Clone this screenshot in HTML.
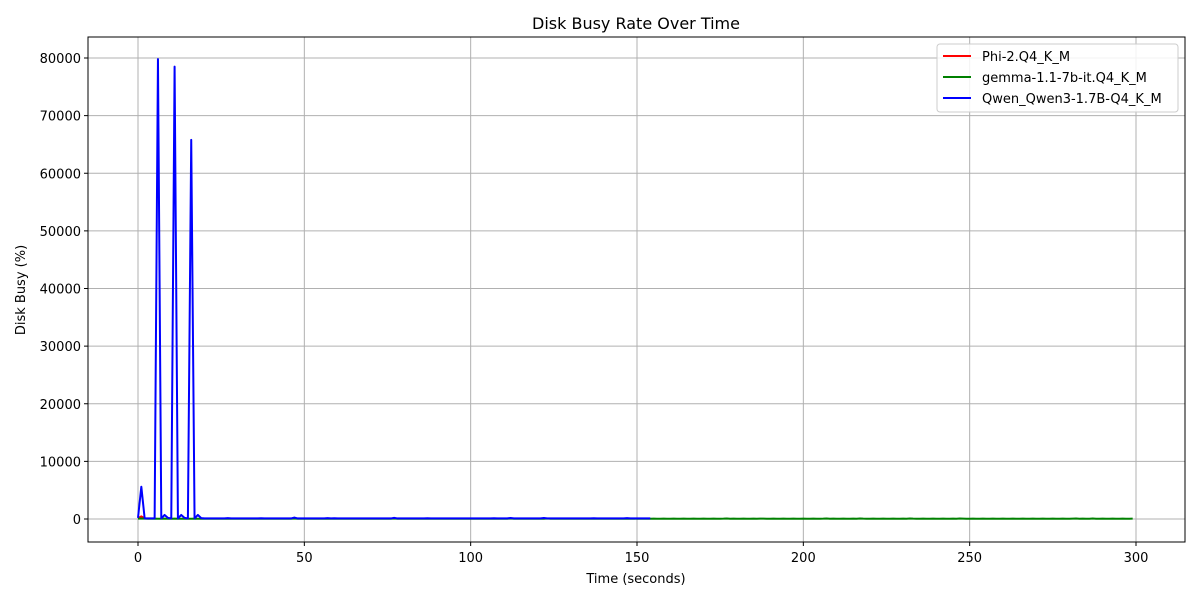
<!DOCTYPE html>
<html><head><meta charset="utf-8"><style>
body{margin:0;background:#fff;font-family:"Liberation Sans","DejaVu Sans",sans-serif;}
svg text{font-family:"DejaVu Sans","Liberation Sans",sans-serif;}
</style></head><body>
<svg id="chart" width="1200" height="600" xmlns="http://www.w3.org/2000/svg">
<rect width="1200" height="600" fill="#fff"/>
<text x="636" y="29" font-size="16" text-anchor="middle">Disk Busy Rate Over Time</text>
<g id="grid"></g>
<g id="series"></g>
<rect x="88" y="37" width="1097" height="505" fill="none" stroke="#000" stroke-width="1"/>
<g id="ticks"></g>
<text x="636" y="583" font-size="13" text-anchor="middle">Time (seconds)</text>
<text transform="translate(25,290) rotate(-90)" font-size="13" text-anchor="middle">Disk Busy (%)</text>
<g>
<rect x="937" y="44" width="241" height="68" fill="#fff" fill-opacity="0.85" stroke="#ccc" rx="3"/>
<line x1="943" y1="56" x2="971" y2="56" stroke="red" stroke-width="2"/>
<text x="982" y="61" font-size="13">Phi-2.Q4_K_M</text>
<line x1="943" y1="77" x2="971" y2="77" stroke="green" stroke-width="2"/>
<text x="982" y="82" font-size="13">gemma-1.1-7b-it.Q4_K_M</text>
<line x1="943" y1="98" x2="971" y2="98" stroke="blue" stroke-width="2"/>
<text x="982" y="103" font-size="13">Qwen_Qwen3-1.7B-Q4_K_M</text>
</g>
</svg>
<script>
const xTicks=[0,50,100,150,200,250,300];
const yTicks=[0,10000,20000,30000,40000,50000,60000,70000,80000];
const redValues=[150,450,120];
const greenValues=[60,80,60,50,50,60,50,50,60,50,50,70,50,50,60,50,50,60,50,50,60,50,50,50,60,50,50,60,50,50,
60,50,50,60,50,50,60,50,50,60,50,50,60,50,50,60,50,80,50,50,60,50,50,60,50,50,60,50,50,60,
50,50,60,50,50,60,50,50,60,50,50,60,50,50,60,50,50,90,50,50,60,50,50,60,50,50,60,50,50,60,
50,50,60,50,50,60,50,50,60,50,50,60,50,50,60,50,50,60,50,50,60,50,80,50,50,60,50,50,60,50,
50,60,50,80,50,60,50,50,60,50,50,60,50,50,60,50,50,60,50,50,60,50,50,60,50,50,60,50,50,60,
50,50,60,50,50,60,50,50,60,50,50,60,50,50,60,50,50,60,50,50,60,50,50,60,50,50,60,90,50,60,
50,50,60,50,50,60,50,70,60,50,50,60,50,50,60,50,50,60,50,50,60,50,50,60,50,50,60,90,50,60,
50,50,60,50,50,60,50,90,60,50,50,60,50,50,60,50,50,60,50,50,60,50,90,60,50,50,60,50,50,60,
50,50,60,50,50,60,50,80,60,50,50,60,50,50,60,50,50,60,50,50,60,50,50,60,50,50,60,50,50,60,
50,50,60,50,50,60,50,50,60,50,50,60,80,50,60,50,50,90,50,50,60,50,50,60,50,50,60,50,50,60];
const blueValues=[200,5600,100,100,100,100,79800,100,700,200,100,78500,100,700,200,100,65800,100,700,150,
100,100,100,100,100,100,100,150,100,100,100,100,100,100,100,100,100,130,100,100,
100,100,100,100,100,100,100,250,100,100,100,100,100,100,100,100,100,150,100,130,
100,100,100,100,100,100,100,100,100,100,100,100,100,100,100,100,100,200,100,100,
100,100,100,100,100,100,100,130,100,100,100,100,100,100,100,100,100,100,100,100,
100,100,100,100,100,100,100,120,100,100,100,100,180,100,100,100,100,100,100,100,
100,100,170,100,100,100,100,100,100,100,100,100,100,100,100,100,100,130,100,100,
100,100,100,100,100,100,100,150,100,100,100,100,100,100,100];
const X=t=>138+t*(1136-138)/300;
const Y=v=>519-v*(519-58)/80000;
const NS="http://www.w3.org/2000/svg";
const grid=document.getElementById('grid'),ticks=document.getElementById('ticks'),ser=document.getElementById('series');
function mk(tag,attrs,parent){const e=document.createElementNS(NS,tag);for(const k in attrs)e.setAttribute(k,attrs[k]);parent.appendChild(e);return e;}
xTicks.forEach(t=>{
  const g=mk('line',{x1:X(t),x2:X(t),y1:37,y2:542,stroke:'#b0b0b0','stroke-width':1},grid);
  
  
  mk('line',{x1:X(t),x2:X(t),y1:542,y2:546,stroke:'#000'},ticks);
  const tx=mk('text',{x:X(t),y:562,'font-size':13,'text-anchor':'middle'},ticks);
  tx.textContent=t;
  
  
});
yTicks.forEach(v=>{
  const g=mk('line',{x1:88,x2:1185,y1:Y(v),y2:Y(v),stroke:'#b0b0b0','stroke-width':1},grid);
  
  
  mk('line',{x1:84,x2:88,y1:Y(v),y2:Y(v),stroke:'#000'},ticks);
  const tx=mk('text',{x:81,y:Y(v)+5,'font-size':13,'text-anchor':'end'},ticks);
  tx.textContent=v;
  
  
});
function line(vals,color,name){
  const p=mk('polyline',{points:vals.map((v,i)=>X(i)+','+Y(v)).join(' '),fill:'none',stroke:color,'stroke-width':2,'stroke-linejoin':'round'},ser);
  
  
}
line(redValues,'red','series-phi2');
line(greenValues,'green','series-gemma');
line(blueValues,'blue','series-qwen');
</script>
</body></html>
